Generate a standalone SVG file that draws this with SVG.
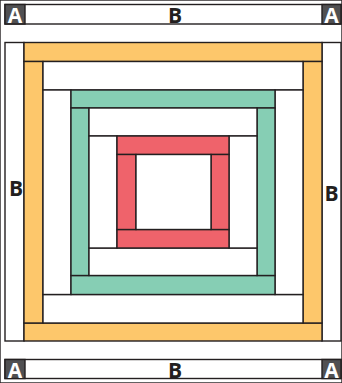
<svg xmlns="http://www.w3.org/2000/svg" width="342" height="383" viewBox="0 0 342 383">
<style>
rect{stroke:#231f20;stroke-width:1.4}
.w{fill:#ffffff}
.o{fill:#fdc76b}
.g{fill:#86ceb4}
.r{fill:#ef636b}
.a{fill:#505052}
text{font-family:"Open Sans","Liberation Sans",sans-serif;font-weight:bold;font-size:21px;text-anchor:middle}
.ta{fill:#ffffff}
.tb{fill:#231f20}
</style>
<rect x="0" y="0" width="342" height="383" fill="#ffffff" stroke="none"/>
<g id="top-border">
<rect class="w" x="5" y="4.5" width="336" height="19.5"/>
<rect class="a" x="5" y="4.5" width="20" height="19.5"/>
<rect class="a" x="322" y="4.5" width="19" height="19.5"/>
<text class="ta" x="15" y="22.5">A</text>
<text class="ta" x="331.5" y="22.5">A</text>
<text class="tb" x="175" y="23">B</text>
</g>
<g id="ring1-white">
<rect class="w" x="5" y="42.5" width="19" height="298.5"/>
<rect class="w" x="322" y="42.5" width="19" height="298.5"/>
<text class="tb" x="16" y="196">B</text>
<text class="tb" x="331.5" y="201">B</text>
</g>
<g id="ring2-orange">
<rect class="o" x="24" y="42.5" width="298" height="19"/>
<rect class="o" x="24" y="323" width="298" height="18"/>
<rect class="o" x="24" y="61.5" width="19" height="261.5"/>
<rect class="o" x="303" y="61.5" width="19" height="261.5"/>
</g>
<g id="ring3-white">
<rect class="w" x="43" y="61.5" width="260" height="28.5"/>
<rect class="w" x="43" y="294.5" width="260" height="28.5"/>
<rect class="w" x="43" y="90" width="28" height="204.5"/>
<rect class="w" x="275" y="90" width="28" height="204.5"/>
</g>
<g id="ring4-green">
<rect class="g" x="71" y="90" width="204" height="18"/>
<rect class="g" x="71" y="275.5" width="204" height="19"/>
<rect class="g" x="71" y="108" width="18" height="167.5"/>
<rect class="g" x="257" y="108" width="18" height="167.5"/>
</g>
<g id="ring5-white">
<rect class="w" x="89" y="108" width="168" height="28"/>
<rect class="w" x="89" y="248" width="168" height="27.5"/>
<rect class="w" x="89" y="136" width="28" height="112"/>
<rect class="w" x="229" y="136" width="28" height="112"/>
</g>
<g id="ring6-red">
<rect class="r" x="117" y="136" width="112" height="18.5"/>
<rect class="r" x="117" y="229.5" width="112" height="18.5"/>
<rect class="r" x="117" y="154.5" width="19" height="75"/>
<rect class="r" x="211" y="154.5" width="18" height="75"/>
</g>
<g id="center">
<rect class="w" x="136" y="154.5" width="75" height="75"/>
</g>
<g id="bottom-border">
<rect class="w" x="5" y="359.5" width="336" height="19"/>
<rect class="a" x="5" y="359.5" width="20" height="19"/>
<rect class="a" x="322" y="359.5" width="19" height="19"/>
<text class="ta" x="15" y="377.5">A</text>
<text class="ta" x="331.5" y="377.5">A</text>
<text class="tb" x="175" y="377.5">B</text>
</g>
</svg>
